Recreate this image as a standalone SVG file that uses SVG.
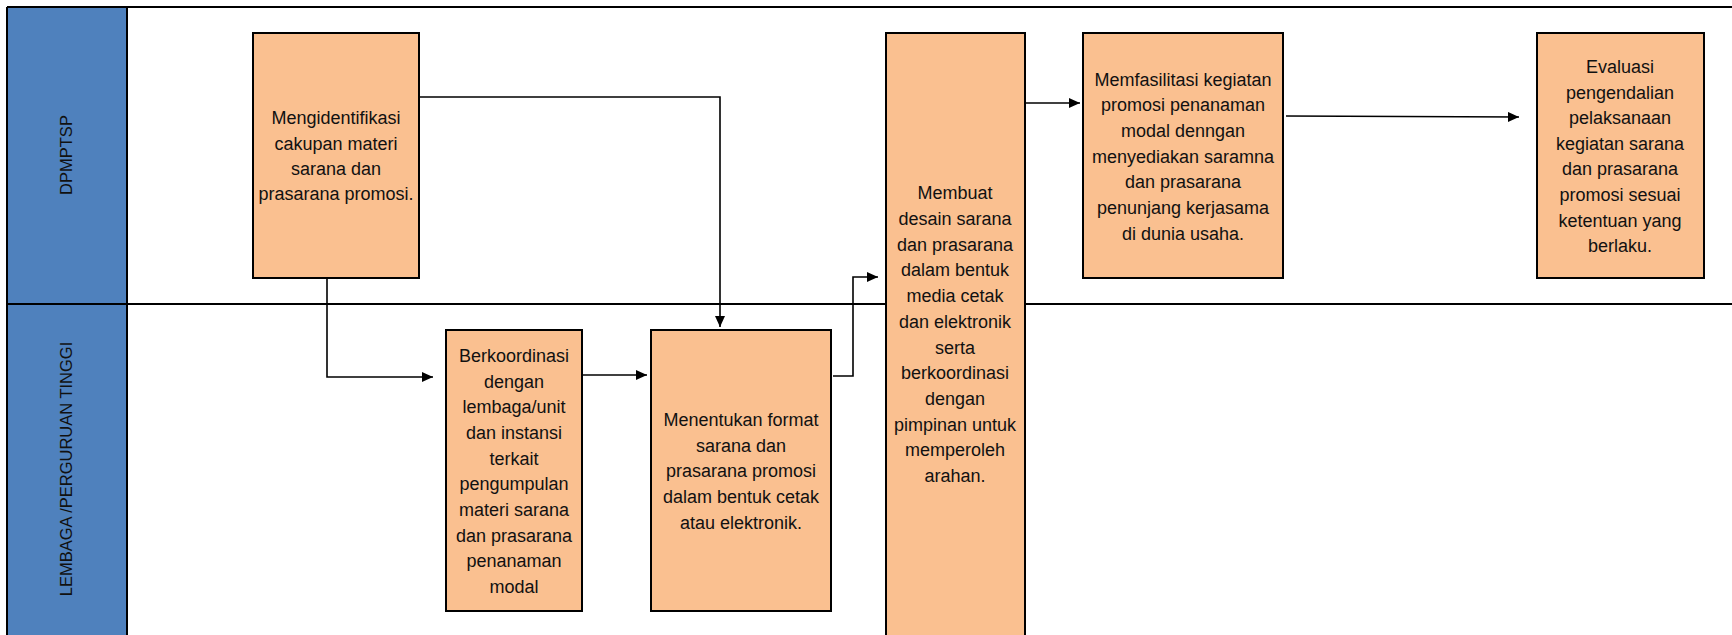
<svg xmlns="http://www.w3.org/2000/svg" width="1732" height="635" viewBox="0 0 1732 635">
<style>
.lane{fill:#4F81BD;stroke:none}
.ln{stroke:#000;stroke-width:2;fill:none}
.box{fill:#FAC090;stroke:#000;stroke-width:2}
.t{font-family:"Liberation Sans",Arial,sans-serif;font-size:18px;fill:#111;text-anchor:middle}
.lt{font-family:"Liberation Sans",Arial,sans-serif;font-size:16.5px;fill:#111;text-anchor:middle}
.c{stroke:#000;stroke-width:1.6;fill:none;marker-end:url(#ah)}
</style>
<defs>
<marker id="ah" markerUnits="userSpaceOnUse" markerWidth="12" markerHeight="10" refX="11" refY="5" orient="auto">
<path d="M0,0 L11,5 L0,10 Z" fill="#000"/>
</marker>
</defs>
<rect width="1732" height="635" fill="#fff"/>
<g id="lanes">
<rect class="lane" x="7" y="7" width="120" height="628"/>
<line class="ln" x1="7" y1="7" x2="1732" y2="7"/>
<line class="ln" x1="7" y1="304" x2="1732" y2="304"/>
<line class="ln" x1="7" y1="7" x2="7" y2="635"/>
<line class="ln" x1="127" y1="7" x2="127" y2="635"/>
<text class="lt" transform="translate(72,155) rotate(-90)">DPMPTSP</text>
<text class="lt" transform="translate(72,469) rotate(-90)">LEMBAGA /PERGURUAN TINGGI</text>
</g>
<g id="connectors">
<path class="c" d="M327,278 V377 H433"/>
<path class="c" d="M419,97 H720 V327"/>
<path class="c" d="M582,375 H647"/>
<path class="c" d="M833,376 H853 V277 H878"/>
<path class="c" d="M1025,103 H1080"/>
<path class="c" d="M1286,116 L1519,117"/>
</g>
<g id="n1">
<rect class="box" x="253" y="33" width="166" height="245"/>
<text class="t" x="336" y="124">Mengidentifikasi</text>
<text class="t" x="336" y="150">cakupan materi</text>
<text class="t" x="336" y="175">sarana dan</text>
<text class="t" x="336" y="200">prasarana promosi.</text>
</g>
<g id="n2">
<rect class="box" x="446" y="330" width="136" height="281"/>
<text class="t" x="514" y="362">Berkoordinasi</text>
<text class="t" x="514" y="388">dengan</text>
<text class="t" x="514" y="413">lembaga/unit</text>
<text class="t" x="514" y="439">dan instansi</text>
<text class="t" x="514" y="465">terkait</text>
<text class="t" x="514" y="490">pengumpulan</text>
<text class="t" x="514" y="516">materi sarana</text>
<text class="t" x="514" y="542">dan prasarana</text>
<text class="t" x="514" y="567">penanaman</text>
<text class="t" x="514" y="593">modal</text>
</g>
<g id="n3">
<rect class="box" x="651" y="330" width="180" height="281"/>
<text class="t" x="741" y="426">Menentukan format</text>
<text class="t" x="741" y="452">sarana dan</text>
<text class="t" x="741" y="477">prasarana promosi</text>
<text class="t" x="741" y="503">dalam bentuk cetak</text>
<text class="t" x="741" y="529">atau elektronik.</text>
</g>
<g id="n4">
<rect class="box" x="886" y="33" width="139" height="610"/>
<text class="t" x="955" y="199">Membuat</text>
<text class="t" x="955" y="225">desain sarana</text>
<text class="t" x="955" y="251">dan prasarana</text>
<text class="t" x="955" y="276">dalam bentuk</text>
<text class="t" x="955" y="302">media cetak</text>
<text class="t" x="955" y="328">dan elektronik</text>
<text class="t" x="955" y="354">serta</text>
<text class="t" x="955" y="379">berkoordinasi</text>
<text class="t" x="955" y="405">dengan</text>
<text class="t" x="955" y="431">pimpinan untuk</text>
<text class="t" x="955" y="456">memperoleh</text>
<text class="t" x="955" y="482">arahan.</text>
</g>
<g id="n5">
<rect class="box" x="1083" y="33" width="200" height="245"/>
<text class="t" x="1183" y="86">Memfasilitasi kegiatan</text>
<text class="t" x="1183" y="111">promosi penanaman</text>
<text class="t" x="1183" y="137">modal denngan</text>
<text class="t" x="1183" y="163">menyediakan saramna</text>
<text class="t" x="1183" y="188">dan prasarana</text>
<text class="t" x="1183" y="214">penunjang kerjasama</text>
<text class="t" x="1183" y="240">di dunia usaha.</text>
</g>
<g id="n6">
<rect class="box" x="1537" y="33" width="167" height="245"/>
<text class="t" x="1620" y="73">Evaluasi</text>
<text class="t" x="1620" y="99">pengendalian</text>
<text class="t" x="1620" y="124">pelaksanaan</text>
<text class="t" x="1620" y="150">kegiatan sarana</text>
<text class="t" x="1620" y="175">dan prasarana</text>
<text class="t" x="1620" y="201">promosi sesuai</text>
<text class="t" x="1620" y="227">ketentuan yang</text>
<text class="t" x="1620" y="252">berlaku.</text>
</g>
</svg>
